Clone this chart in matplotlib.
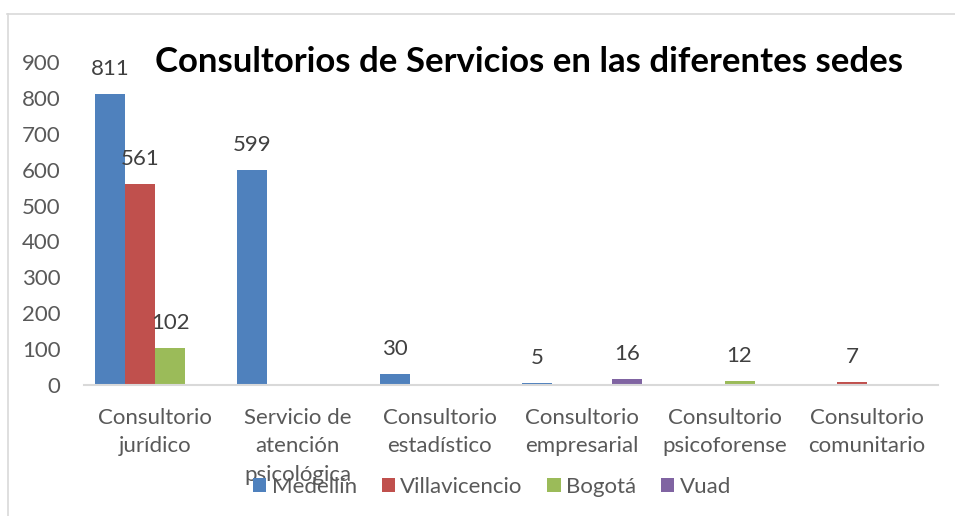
import numpy as np
import matplotlib
matplotlib.use('Agg')
import matplotlib.pyplot as plt
from matplotlib.patches import Patch
from matplotlib.lines import Line2D

plt.rcParams['font.family'] = ['Lato', 'DejaVu Sans']

# data
categories = ['Consultorio\njurídico', 'Servicio de\natención\npsicológica',
              'Consultorio\nestadístico', 'Consultorio\nempresarial',
              'Consultorio\npsicoforense', 'Consultorio\ncomunitario']
series = ['Medellín', 'Villavicencio', 'Bogotá', 'Vuad']
medellin = [811, 599, 30, 5, 0, 0]
villavicencio = [561, 0, 0, 0, 0, 7]
bogota = [102, 0, 0, 0, 12, 0]
vuad = [0, 0, 0, 16, 0, 0]
yticks = [0, 100, 200, 300, 400, 500, 600, 700, 800, 900]
title = 'Consultorios de Servicios en las diferentes sedes'

colors = ['#4F81BD', '#C0504D', '#9BBB59', '#8064A2']
gray = '#595959'

W, H = 955, 516
fig = plt.figure(figsize=(W / 100, H / 100), dpi=100)

# chart border (only top and left visible in the crop)
fig.add_artist(Line2D([7 / W, 1], [1 - 13.5 / H, 1 - 13.5 / H], color='#D9D9D9', lw=1.2))
fig.add_artist(Line2D([7.5 / W, 7.5 / W], [0, 1 - 13.5 / H], color='#D9D9D9', lw=1.2))

ax = fig.add_axes([84 / W, 1 - 385 / H, (938 - 84) / W, (385 - 62) / H])

x = np.arange(len(categories))
bw = 0.211
vals = [medellin, villavicencio, bogota, vuad]
for i, (name, v) in enumerate(zip(series, vals)):
    pos = x + (i - 1.5) * bw
    ax.bar(pos, v, width=bw, color=colors[i], label=name, zorder=2)
    for px, pv in zip(pos, v):
        if pv > 0:
            ax.annotate(str(pv), (px, pv), xytext=(0, 18), textcoords='offset points',
                        ha='center', va='center', fontsize=16, color='#404040')

ax.set_xlim(-0.5, len(categories) - 0.5)
ax.set_ylim(0, 900)
ax.set_yticks(yticks)
ax.set_yticklabels([str(t) for t in yticks])
ax.tick_params(axis='y', length=0, pad=17, labelsize=16, labelcolor=gray)
ax.set_xticks([])
for s in ['top', 'right', 'left']:
    ax.spines[s].set_visible(False)
ax.spines['bottom'].set_color('#D9D9D9')
ax.spines['bottom'].set_linewidth(1.5)

# category labels, one line at a time
for xi, lab in zip(x, categories):
    for j, line in enumerate(lab.split('\n')):
        ax.annotate(line, (xi, 0), xytext=(0, -23.5 - j * 20.5), textcoords='offset points',
                    ha='center', va='center', fontsize=16, color=gray,
                    annotation_clip=False)

fig.text(529 / W, 1 - 62 / H, title, ha='center', va='center',
         fontsize=25, fontweight='bold', color='black')

handles = [Patch(facecolor=c, edgecolor='none') for c in colors]
fig.legend(handles, series, loc='center', bbox_to_anchor=(492 / W, 1 - 487 / H),
           ncol=4, frameon=False, fontsize=16, labelcolor=gray,
           handlelength=0.6, handleheight=0.6, handletextpad=0.25,
           columnspacing=1.1, borderpad=0)

fig.savefig('out.png', dpi=100)
